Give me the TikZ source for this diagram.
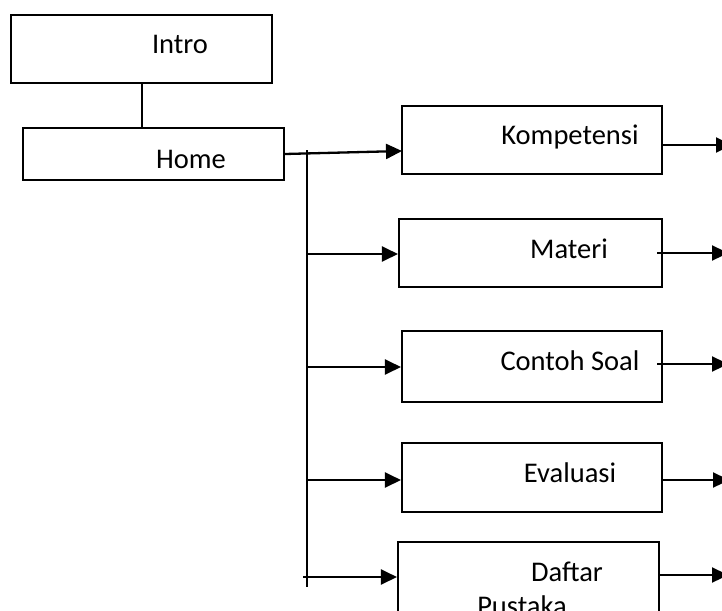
\documentclass[tikz,border=0pt]{standalone}
\usepackage{fontspec}
\setmainfont{Carlito}
\usetikzlibrary{arrows.meta}
\begin{document}
\begin{tikzpicture}[x=1pt,y=-1pt,
  box/.style={draw,line width=2.1pt,inner sep=0pt},
  lbl/.style={anchor=base,inner sep=0pt,font=\fontsize{28.5}{34}\selectfont},
  ln/.style={line width=2.1pt},
  arr/.style={line width=2.3pt,-{Triangle[length=16pt,width=15pt]}}]
\useasboundingbox (0,0) rectangle (722,610);
\clip (0,0) rectangle (722,610);
% boxes
\node[box,minimum width=261pt,minimum height=68pt] (intro) at (141.5,49) {};
\node[box,minimum width=261pt,minimum height=52pt] (home) at (153.5,154) {};
\node[box,minimum width=260pt,minimum height=68pt] (kom) at (532,140) {};
\node[box,minimum width=263pt,minimum height=68pt] (mat) at (530.5,253) {};
\node[box,minimum width=260pt,minimum height=71pt] (con) at (532,366.5) {};
\node[box,minimum width=260pt,minimum height=69pt] (eva) at (532,477.5) {};
\node[box,minimum width=261pt,minimum height=98pt] (daf) at (528.5,591) {};
% labels
\node[lbl] (tintro) at (180,53) {Intro};
\node[lbl] (thome) at (191,168) {Home};
\node[lbl] (tkom) at (570,144) {Kompetensi};
\node[lbl] (tmat) at (569,258) {Materi};
\node[lbl] (tcon) at (570,370) {Contoh Soal};
\node[lbl] (teva) at (570,482) {Evaluasi};
\node[lbl] (tdaf) at (567,581) {Daftar};
\node[lbl] (tpus) at (522,615) {Pustaka};
% bus coordinates
\coordinate (btop) at (307,150);
\coordinate (bbot) at (307,587);
\coordinate (b1) at (307,254);
\coordinate (b2) at (307,367);
\coordinate (b3) at (307,480);
\coordinate (b4) at (303,577);
\coordinate (k0) at (402,151);
% right free ends
\coordinate (r0) at (732,145);
\coordinate (r1) at (728,253);
\coordinate (r2) at (728,364);
\coordinate (r3) at (729,480);
\coordinate (r4) at (728,575);
% connectors
\draw[ln] (intro.south -| 142,0) -- (home.north -| 142,0);
\draw[ln] (btop) -- (bbot);
\draw[arr] (home.east) -- (k0);
\draw[arr] (b1) -- (b1 -| mat.west);
\draw[arr] (b2) -- (b2 -| con.west);
\draw[arr] (b3) -- (b3 -| eva.west);
\draw[arr] (b4) -- (b4 -| daf.west);
\draw[arr] (r0 -| kom.east) -- (r0);
\draw[arr] ([xshift=-6pt]r1 -| mat.east) -- (r1);
\draw[arr] ([xshift=-6pt]r2 -| con.east) -- (r2);
\draw[arr] ([xshift=-2pt]r3 -| eva.east) -- (r3);
\draw[arr] (r4 -| daf.east) -- (r4);
\end{tikzpicture}
\end{document}
